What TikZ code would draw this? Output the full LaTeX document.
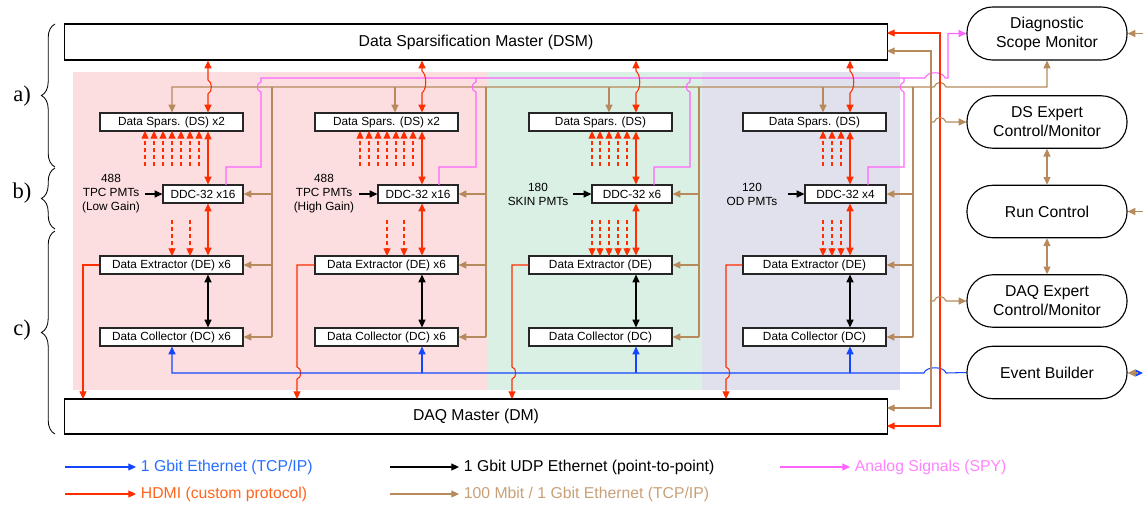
\documentclass[tikz,border=0pt]{standalone}
\usepackage{fontspec}
\setmainfont{Liberation Sans}
\newfontfamily\serifpart{Liberation Serif}
\usetikzlibrary{arrows.meta,decorations.pathreplacing,calc}
\definecolor{cred}{RGB}{255,45,0}
\definecolor{cbrown}{RGB}{182,138,92}
\definecolor{cblue}{RGB}{20,70,255}
\definecolor{cpink}{RGB}{255,100,255}
\definecolor{bgpink}{RGB}{252,222,224}
\definecolor{bggreen}{RGB}{218,240,228}
\definecolor{bglav}{RGB}{225,225,237}
\definecolor{tblue}{RGB}{40,110,255}
\definecolor{torange}{RGB}{255,100,30}
\definecolor{tbrown}{RGB}{200,160,120}
\definecolor{tpink}{RGB}{255,130,255}
\begin{document}
\begin{tikzpicture}[x=0.025cm,y=-0.025cm,
  >={Triangle[length=5.5pt,width=5pt]},
  bigbox/.style={draw=black, line width=0.8pt, fill=white, inner sep=0pt, minimum width=20.55cm, font=\fontsize{11.2}{13.5}\selectfont},
  smbox/.style={draw=black!85, line width=0.8pt, fill=white, inner sep=0pt, minimum height=0.45cm, minimum width=3.575cm, font=\fontsize{8.4}{10}\selectfont},
  rbox/.style={draw=black, line width=0.8pt, fill=white, rounded corners=0.64cm, minimum width=4cm, minimum height=1.31cm, align=center, inner sep=0pt, font=\fontsize{11.2}{13.5}\selectfont},
  lab/.style={align=center, font=\fontsize{8.4}{10}\selectfont},
  leg/.style={anchor=west, font=\fontsize{11.2}{13.5}\selectfont},
  rl/.style={cred, line width=0.75pt},
  bl/.style={cbrown, line width=0.8pt},
  kl/.style={black, line width=0.75pt},
  bll/.style={cblue, line width=0.75pt},
  pl/.style={cpink, line width=0.75pt},
  dl/.style={cred, line width=0.75pt, dash pattern=on 3pt off 2pt},
  brc/.style={decorate, decoration={brace, amplitude=0.34cm}, line width=0.6pt},
  lbl/.style={font=\serifpart\fontsize{16}{16}\selectfont}
]
\useasboundingbox (0,0) rectangle (1143,508);

% background regions
\fill[bgpink] (73,72) rectangle (488,390);
\fill[bggreen] (488,72) rectangle (702,390);
\fill[bglav] (702,72) rectangle (900,390);

% masters
\node[bigbox, minimum height=0.9cm] (dsm) at (476,42) {Data Sparsification Master (DSM)};
\node[bigbox, minimum height=0.875cm] (dm) at (476,416.5) {DAQ Master (DM)};

% right boxes
\node[rbox, minimum height=1.325cm] (diag) at (1047,33.5) {Diagnostic\\Scope Monitor};
\node[rbox] (dsexp) at (1047,122) {DS Expert\\Control/Monitor};
\node[rbox] (runc) at (1047,211.5) {Run Control};
\node[rbox] (daqexp) at (1047,301) {DAQ Expert\\Control/Monitor};
\node[rbox] (eb) at (1047,372.5) {Event Builder};

% column boxes
\node[smbox] (ds1) at (171.5,122) {Data Spars. (DS) x2};
\node[smbox, minimum width=2cm] (ddc1) at (203,194) {DDC-32 x16};
\node[smbox] (de1) at (171.5,265) {Data Extractor (DE) x6};
\node[smbox] (dc1) at (171.5,337) {Data Collector (DC) x6};

\node[smbox] (ds2) at (386.5,122) {Data Spars. (DS) x2};
\node[smbox, minimum width=2cm] (ddc2) at (418,194) {DDC-32 x16};
\node[smbox] (de2) at (386.5,265) {Data Extractor (DE) x6};
\node[smbox] (dc2) at (386.5,337) {Data Collector (DC) x6};

\node[smbox] (ds3) at (600.5,122) {Data Spars. (DS)};
\node[smbox, minimum width=2cm] (ddc3) at (632,194) {DDC-32 x6};
\node[smbox] (de3) at (600.5,265) {Data Extractor (DE)};
\node[smbox] (dc3) at (600.5,337) {Data Collector (DC)};

\node[smbox] (ds4) at (814.5,122) {Data Spars. (DS)};
\node[smbox, minimum width=2.025cm] (ddc4) at (845.5,194) {DDC-32 x4};
\node[smbox] (de4) at (814.5,265) {Data Extractor (DE)};
\node[smbox] (dc4) at (814.5,337) {Data Collector (DC)};

% PMT labels
\node[lab] (pmt1) at (111,194) {488\\TPC PMTs\\(Low Gain)};
\node[lab] (pmt2) at (324,194) {488\\TPC PMTs\\(High Gain)};
\node[lab] (pmt3) at (538,194) {180\\SKIN PMTs};
\node[lab] (pmt4) at (752,194) {120\\OD PMTs};
\draw[kl,->] (pmt1.east) -- (ddc1.west);
\draw[kl,->] (pmt2.east) -- (ddc2.west);
\draw[kl,->] (pmt3.east) -- (ddc3.west);
\draw[kl,->] ($(pmt4.east)+(6,0)$) -- (ddc4.west);

% column x coordinates
\coordinate (r1) at (208,0); \coordinate (r2) at (422,0);
\coordinate (r3) at (636,0); \coordinate (r4) at (850,0);

% brown bus and verticals
\draw[bl,<->] (ds1.north -| 172,0) -- (172,87) -- (934,87) .. controls (936,81) and (944,81) .. (946,87) -- (1047,87) -- (diag.south);
\draw[bl,->] (395,87) -- (ds2.north -| 395,0);
\draw[bl,->] (609,87) -- (ds3.north -| 609,0);
\draw[bl,->] (823,87) -- (ds4.north -| 823,0);
\foreach \c/\x in {1/272,2/486,3/699,4/913}{
  \draw[bl] (\x,87) -- (\x,337);
  \draw[bl,->] (\x,194) -- (ddc\c.east);
  \draw[bl,->] (\x,265) -- (de\c.east);
  \draw[bl,->] (\x,337) -- (dc\c.east);
}

% pink analog signals
\draw[pl,->] (226,185) -- (226,167) -- (261,167) -- (261,92) .. controls (256,91) and (256,83) .. (261,82) -- (261,78) -- (925,78) .. controls (927,71) and (943,71) .. (945,78) -- (948,78) |- (diag.west);
\draw[pl] (439,185) -- (439,167) -- (476,167) -- (476,92) .. controls (471,91) and (471,83) .. (476,82) -- (476,78);
\draw[pl] (654,185) -- (654,167) -- (690,167) -- (690,92) .. controls (685,91) and (685,83) .. (690,82) -- (690,78);
\draw[pl] (868,185) -- (868,167) -- (904,167) -- (904,92) .. controls (899,91) and (899,83) .. (904,82) -- (904,78);

% red DSM <-> DS with hops
\draw[rl,<->] (r1 |- dsm.south) -- (208,80) .. controls (212.5,82) and (212.5,92) .. (208,94) -- (r1 |- ds1.north);
\draw[rl,<->] (r2 |- dsm.south) -- (422,71) .. controls (427,75) and (427,89) .. (422,93) -- (r2 |- ds2.north);
\draw[rl,<->] (r3 |- dsm.south) -- (636,71) .. controls (641,75) and (641,89) .. (636,93) -- (r3 |- ds3.north);
\draw[rl,<->] (r4 |- dsm.south) -- (850,71) .. controls (855,75) and (855,89) .. (850,93) -- (r4 |- ds4.north);

% red DS<->DDC<->DE, black DE<->DC
\foreach \c in {1,2,3,4}{
  \draw[rl,<->] (r\c |- ds\c.south) -- (r\c |- ddc\c.north);
  \draw[rl,<->] (r\c |- ddc\c.south) -- (r\c |- de\c.north);
  \draw[kl,<->] (r\c |- de\c.south) -- (r\c |- dc\c.north);
}

% dashed HDMI
\foreach \x in {145,154,163,172,181,190,199} \draw[dl,->] (\x,166) -- (\x,131);
\foreach \x in {360,369,378,387,396,404,413} \draw[dl,->] (\x,166) -- (\x,131);
\foreach \x in {592,600,609,618,627} \draw[dl,->] (\x,166) -- (\x,131);
\foreach \x in {823,832,841} \draw[dl,->] (\x,166) -- (\x,131);
\foreach \x in {172,190} \draw[dl,->] (\x,220) -- (\x,256);
\foreach \x in {387,404} \draw[dl,->] (\x,220) -- (\x,256);
\foreach \x in {592,600,609,618,627} \draw[dl,->] (\x,220) -- (\x,256);
\foreach \x in {823,832,841} \draw[dl,->] (\x,220) -- (\x,256);

% red DE -> DM
\draw[rl,->] (de1.west) -- (83,265) -- (83,399);
\draw[rl,->] (de2.west) -- (297,265) -- (297,367) .. controls (302,368) and (302,378) .. (297,379) -- (297,399);
\draw[rl,->] (de3.west) -- (512,265) -- (512,367) .. controls (517,368) and (517,378) .. (512,379) -- (512,399);
\draw[rl,->] (de4.west) -- (726,265) -- (726,367) .. controls (731,368) and (731,378) .. (726,379) -- (726,399);

% blue bus
\draw[bll,->] (eb.west) -- (946,373) .. controls (944,366) and (926,366) .. (924,373) -- (172,373) -- (dc1.south -| 172,0);
\draw[bll,->] (r2 |- 0,373) -- (r2 |- dc2.south);
\draw[bll,->] (r3 |- 0,373) -- (r3 |- dc3.south);
\draw[bll,->] (r4 |- 0,373) -- (r4 |- dc4.south);

% right-side brown and red
\draw[rl,<->] (887,33) -- (940,33) -- (940,426) -- (887,426);
\draw[bl,<->] (887,51) -- (931,51) -- (931,408) -- (887,408);
\draw[bl,->] (931,122) -- (934,122) .. controls (936,116) and (944,116) .. (946,122) -- (dsexp.west);
\draw[bl,->] (931,301) -- (934,301) .. controls (936,295) and (944,295) .. (946,301) -- (daqexp.west);
\draw[bl,<->] (dsexp.south) -- (runc.north);
\draw[bl,<->] (runc.south) -- (daqexp.north);
\coordinate (e1) at (1143,33.5);
\coordinate (e2) at (1143,211.5);
\coordinate (e3) at (1143,373);
\draw[bl,->] (e1) -- (diag.east);
\draw[bl,->] (e2) -- (runc.east);
\draw[bll,->] (1134,373) -- (e3);
\draw[bl,->] (1138,373) -- (eb.east |- e3);

% braces
\draw[brc] (55,167) -- (55,24);
\draw[brc] (55,229) -- (55,168);
\draw[brc] (55,434) -- (55,231);
\node[lbl] (la) at (22,96) {a)};
\node[lbl] (lb) at (22,193) {b)};
\node[lbl] (lc) at (22,330) {c)};

% legend
\node[leg, text=tblue] (lt1) at (136,467) {1 Gbit Ethernet (TCP/IP)};
\node[leg, text=black] (lt2) at (459,467) {1 Gbit UDP Ethernet (point-to-point)};
\node[leg, text=tpink] (lt3) at (850,467) {Analog Signals (SPY)};
\node[leg, text=torange] (lt4) at (136,494) {HDMI (custom protocol)};
\node[leg, text=tbrown] (lt5) at (459,494) {100 Mbit / 1 Gbit Ethernet (TCP/IP)};
\coordinate (g1) at (65,467); \coordinate (g2) at (390,467); \coordinate (g3) at (780,467);
\coordinate (g4) at (65,494); \coordinate (g5) at (390,494);
\draw[bll,->] (g1) -- (lt1.west);
\draw[kl,->] (g2) -- (lt2.west);
\draw[pl,->] (g3) -- (lt3.west);
\draw[rl,->] (g4) -- (lt4.west);
\draw[bl,->] (g5) -- (lt5.west);
\end{tikzpicture}
\end{document}
